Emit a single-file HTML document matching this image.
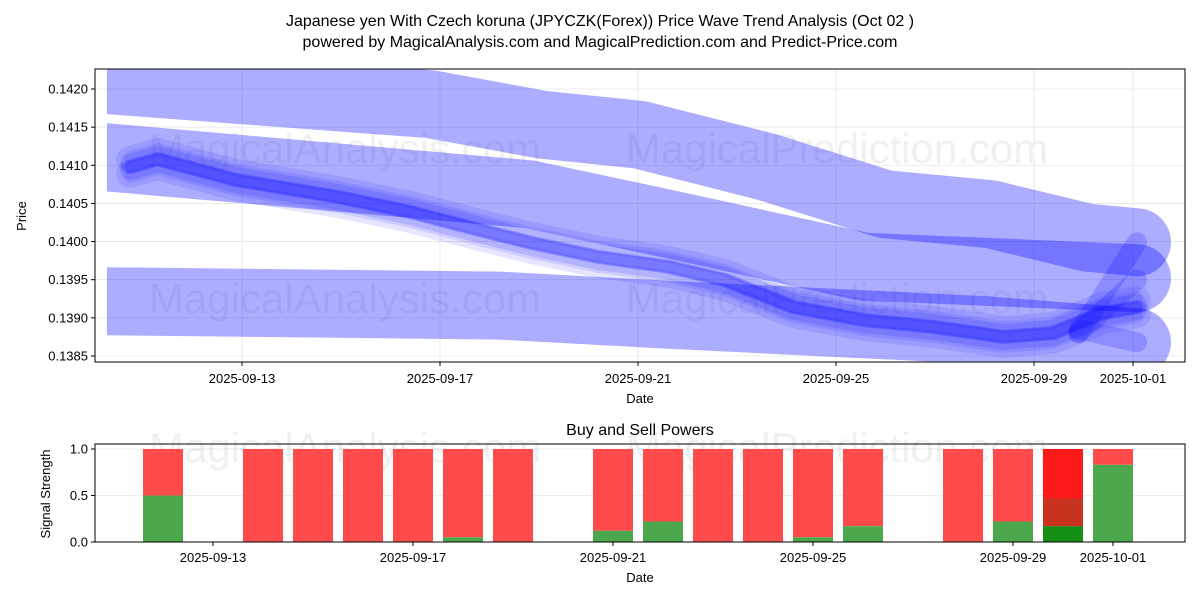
<!DOCTYPE html>
<html><head><meta charset="utf-8"><style>
body{margin:0;background:#fff;}
svg{display:block;font-family:"Liberation Sans","DejaVu Sans",sans-serif;}
</style></head><body>
<svg id="c" width="1200" height="600" viewBox="0 0 1200 600">
<defs><clipPath id="cp"><rect x="95" y="69" width="1090" height="293"/></clipPath>
<clipPath id="cpb"><rect x="107" y="69" width="1078" height="293"/></clipPath></defs>
<text x="600" y="26" text-anchor="middle" font-size="16">Japanese yen With Czech koruna (JPYCZK(Forex)) Price Wave Trend Analysis (Oct 02 )</text>
<text x="600" y="47" text-anchor="middle" font-size="16">powered by MagicalAnalysis.com and MagicalPrediction.com and Predict-Price.com</text>
<g id="top"></g>
<g id="bot"></g>
</svg>
<script>
// ---- price chart data (day = day of Sep 2025; 31 = Oct 1) ----
const bandADays=[10.0,16.82,19.08,21.04,23.59,25.99,28.11,30.09,31.08];
const bandAPrices=[0.14213,0.14180,0.14153,0.14140,0.14098,0.14049,0.14036,0.14005,0.13999];
const bandBDays=[10.0,18.80,21.34,25.57,31.08];
const bandBPrices=[0.14112,0.14062,0.14027,0.13967,0.13952];
const bandCDays=[10.0,18.21,21.34,24.15,27.97,31.08];
const bandCPrices=[0.13922,0.13916,0.13905,0.13896,0.13884,0.13868];
const mainDays=[10.74,11.3,12.86,14.98,16.39,17.81,18.80,20.19,21.61,22.74,24.15,25.57,26.98,28.39,29.38,30.37,31.08];
const mainPrices=[0.14098,0.14108,0.14081,0.14058,0.14039,0.14015,0.13999,0.13980,0.13967,0.13950,0.13914,0.13897,0.13888,0.13875,0.13880,0.13906,0.13914];
const fanDays=[29.9,31.08];
const fanHighPrices=[0.13880,0.13999];
const fanMidPrices=[0.13880,0.13950];
const fanLowPrices=[0.13885,0.13868];
const yTicks=[0.1385,0.1390,0.1395,0.1400,0.1405,0.1410,0.1415,0.1420];
const xTickDays=[13,17,21,25,29,31];
const xTickLabels=["2025-09-13","2025-09-17","2025-09-21","2025-09-25","2025-09-29","2025-10-01"];
// ---- signal chart data ----
const sigDays=[12,14,15,16,17,18,19,21,22,23,24,25,26,28,29,30,31];
const buyVals=[0.5,0,0,0,0,0.05,0,0.12,0.22,0,0,0.05,0.17,0,0.22,0.17,0.83];
const sigTicks=[0.0,0.5,1.0];

const NS="http://www.w3.org/2000/svg";
function mk(p,t,a){const e=document.createElementNS(NS,t);for(const k in a)e.setAttribute(k,a[k]);p.appendChild(e);return e;}
const X=d=>242+(d-13)*49.5;
const Y=v=>89+(0.1420-v)/0.0005*38.14;
const XB=d=>213+(d-13)*50;
const YB=v=>542-v*93;
const topG=document.getElementById('top'),botG=document.getElementById('bot');

yTicks.forEach((v,i)=>{
 const l=mk(topG,'line',{x1:95,x2:1185,y1:Y(v),y2:Y(v),stroke:'#e6e6e6','stroke-width':0.8});
 
 
 const t=mk(topG,'text',{x:88,y:Y(v)+4.5,'text-anchor':'end','font-size':13});
 t.textContent=v.toFixed(4);
 
 
 mk(topG,'line',{x1:91,x2:95,y1:Y(v),y2:Y(v),stroke:'#000'});
});
xTickDays.forEach((d,i)=>{
 const l=mk(topG,'line',{x1:X(d),x2:X(d),y1:69,y2:362,stroke:'#e6e6e6','stroke-width':0.8});
 
 
 mk(topG,'line',{x1:X(d),x2:X(d),y1:362,y2:366,stroke:'#000'});
 const t=mk(topG,'text',{x:X(d),y:383,'text-anchor':'middle','font-size':13});
 t.textContent=xTickLabels[i];
 
 
});
[[345,163],[837,163],[345,313],[837,313]].forEach((p,i)=>{
 const t=mk(topG,'text',{x:p[0],y:p[1],'text-anchor':'middle','font-size':42,fill:'#000','fill-opacity':0.06});
 t.textContent=i%2?'MagicalPrediction.com':'MagicalAnalysis.com';
 
 
});
const gb=mk(topG,'g',{'clip-path':'url(#cpb)'});
const g=mk(topG,'g',{'clip-path':'url(#cp)'});
function band(par,days,prices,w,op,dy,name){
 const pts=days.map((d,i)=>X(d)+','+(Y(prices[i])+dy)).join(' ');
 const p=mk(par,'polyline',{points:pts,fill:'none',stroke:'#0000ff','stroke-opacity':op,'stroke-width':w,'stroke-linecap':'round','stroke-linejoin':'round'});
 
 
}
band(gb,bandADays,bandAPrices,68,0.32,0,'wave-band-upper');
band(gb,bandBDays,bandBPrices,68,0.32,0,'wave-band-middle');
band(gb,bandCDays,bandCPrices,68,0.32,0,'wave-band-lower');
[[-7,28,0.1],[7,28,0.1],[-3,20,0.13],[3,20,0.13],[0,12,0.22],[-10,12,0.1],[10,12,0.1]].forEach(o=>band(g,mainDays,mainPrices,o[1],o[2],o[0],'price-wave-line'));
band(g,fanDays,fanHighPrices,20,0.18,0,'forecast-fan-line');
band(g,fanDays,fanMidPrices,20,0.18,0,'forecast-fan-line');
band(g,fanDays,fanLowPrices,20,0.18,0,'forecast-fan-line');
mk(topG,'rect',{x:95,y:69,width:1090,height:293,fill:'none',stroke:'#000','stroke-width':1});
let t=mk(topG,'text',{x:640,y:403,'text-anchor':'middle','font-size':13});t.textContent='Date';


t=mk(topG,'text',{x:0,y:0,'text-anchor':'middle','font-size':13,transform:'translate(26,216) rotate(-90)'});t.textContent='Price';



t=mk(botG,'text',{x:640,y:435,'text-anchor':'middle','font-size':16});t.textContent='Buy and Sell Powers';


sigTicks.forEach(v=>{
 const l=mk(botG,'line',{x1:95,x2:1185,y1:YB(v),y2:YB(v),stroke:'#e6e6e6','stroke-width':0.8});
 
 
 mk(botG,'line',{x1:91,x2:95,y1:YB(v),y2:YB(v),stroke:'#000'});
 const tt=mk(botG,'text',{x:88,y:YB(v)+4.5,'text-anchor':'end','font-size':13});tt.textContent=v.toFixed(1);
 
 
});
xTickDays.forEach((d,i)=>{
 mk(botG,'line',{x1:XB(d),x2:XB(d),y1:542,y2:546,stroke:'#000'});
 const tt=mk(botG,'text',{x:XB(d),y:562,'text-anchor':'middle','font-size':13});tt.textContent=xTickLabels[i];
 
 
});
[[345,462],[837,462]].forEach((p,i)=>{
 const tt=mk(botG,'text',{x:p[0],y:p[1],'text-anchor':'middle','font-size':42,fill:'#000','fill-opacity':0.06});
 tt.textContent=i?'MagicalPrediction.com':'MagicalAnalysis.com';
 
 
});
sigDays.forEach((d,i)=>{
 const x=XB(d)-20,b=buyVals[i];
 const special=(i===15);
 const r=mk(botG,'rect',{x:x,y:YB(1),width:40,height:YB(b)-YB(1),fill:special?'#ff1a1a':'#ff4b4b'});
 
 
 if(special){
  const r2=mk(botG,'rect',{x:x,y:YB(0.47),width:40,height:YB(b)-YB(0.47),fill:'#c8321f'});
  
  
 }
 if(b>0){
  const gr=mk(botG,'rect',{x:x,y:YB(b),width:40,height:YB(0)-YB(b),fill:special?'#168f16':'#4ca84c'});
  
  
 }
});
mk(botG,'rect',{x:95,y:444,width:1090,height:98,fill:'none',stroke:'#000','stroke-width':1});
t=mk(botG,'text',{x:640,y:582,'text-anchor':'middle','font-size':13});t.textContent='Date';


t=mk(botG,'text',{x:0,y:0,'text-anchor':'middle','font-size':13,transform:'translate(50,494) rotate(-90)'});t.textContent='Signal Strength';


</script>
</body></html>
